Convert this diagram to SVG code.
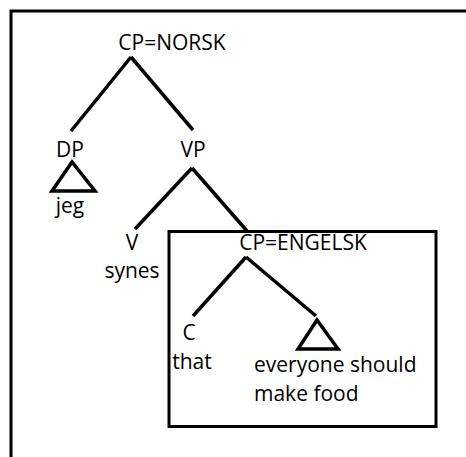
<svg xmlns="http://www.w3.org/2000/svg" width="466" height="457" viewBox="0 0 466 457">
  <style>
    text { font-family: "Open Sans", "Liberation Sans", sans-serif; font-size: 21px; fill: #000; text-anchor: middle; }
    .left { text-anchor: start; }
    .edge { stroke: #000; stroke-width: 3.5; fill: none; stroke-linecap: butt; }
    .tri { stroke: #000; stroke-width: 3.5; fill: none; stroke-linejoin: miter; }
    .frame { stroke: #000; stroke-width: 3; fill: none; }
  </style>
  <rect width="466" height="457" fill="#fff"/>

  <!-- outer frame, running past the canvas on the right and bottom -->
  <rect class="frame" x="11" y="11" width="470" height="470"/>

  <!-- box around the embedded clause -->
  <rect id="box-engelsk" class="frame" x="169" y="231.5" width="267" height="195"/>

  <g id="connectors">
    <line class="edge" x1="131" y1="57" x2="71" y2="131"/>
    <line class="edge" x1="131" y1="57" x2="193" y2="130"/>
    <line class="edge" x1="192" y1="168" x2="135" y2="229"/>
    <line class="edge" x1="192" y1="168" x2="247" y2="231"/>
    <line class="edge" x1="246" y1="257" x2="193" y2="316"/>
    <line class="edge" x1="246" y1="257" x2="316" y2="316"/>
  </g>

  <g id="cp-norsk"><text x="172" y="50">CP=NORSK</text></g>
  <g id="dp">
    <text x="70" y="157">DP</text>
    <polygon class="tri" points="72,162 52,191 95,191"/>
    <text x="70" y="213">jeg</text>
  </g>
  <g id="vp"><text x="193" y="157">VP</text></g>
  <g id="v">
    <text x="132" y="250">V</text>
    <text x="132" y="278">synes</text>
  </g>
  <g id="cp-engelsk"><text x="303" y="250">CP=ENGELSK</text></g>
  <g id="c">
    <text x="189" y="340">C</text>
    <text x="192" y="369">that</text>
  </g>
  <g id="tp">
    <polygon class="tri" points="317,320 298,349 338,349"/>
    <text class="left" x="254" y="372">everyone should</text>
    <text class="left" x="254" y="401">make food</text>
  </g>
</svg>
